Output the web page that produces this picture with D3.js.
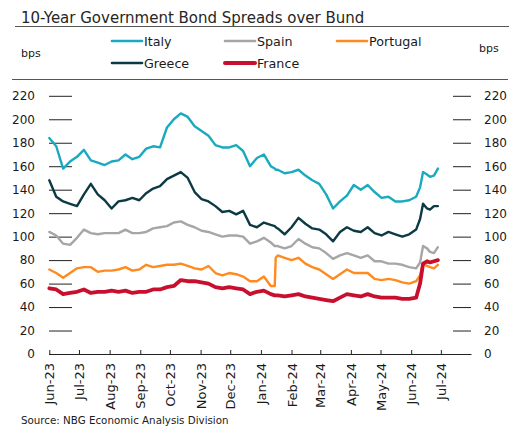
<!DOCTYPE html>
<html>
<head>
<meta charset="utf-8">
<script src="https://cdn.jsdelivr.net/npm/d3@7"></script>
<style>
  html, body { margin: 0; padding: 0; background: #fff; }
  svg { display: block; font-family: "DejaVu Sans", sans-serif; }
</style>
</head>
<body>
<div id="chart"></div>
<script>
// Observation dates (weekly, with extra points around sharp moves)
const dates = [
  "2023-06-01","2023-06-08","2023-06-15","2023-06-22","2023-06-29",
  "2023-07-06","2023-07-13","2023-07-20","2023-07-27",
  "2023-08-03","2023-08-10","2023-08-17","2023-08-24","2023-08-31",
  "2023-09-07","2023-09-14","2023-09-21","2023-09-28",
  "2023-10-05","2023-10-12","2023-10-19","2023-10-26",
  "2023-11-02","2023-11-09","2023-11-16","2023-11-23","2023-11-30",
  "2023-12-07","2023-12-14","2023-12-21","2023-12-28",
  "2024-01-04","2024-01-11","2024-01-15","2024-01-16","2024-01-18","2024-01-25",
  "2024-02-01","2024-02-08","2024-02-15","2024-02-22","2024-02-29",
  "2024-03-07","2024-03-14","2024-03-21","2024-03-28",
  "2024-04-04","2024-04-11","2024-04-18","2024-04-25",
  "2024-05-02","2024-05-09","2024-05-16","2024-05-23","2024-05-30",
  "2024-06-06","2024-06-10","2024-06-13","2024-06-17","2024-06-20","2024-06-24","2024-06-28"
];

// 10-year spreads over the Bund, bps
const italy = [
  184,177,158,164,168, 174,165,163,161, 164,165,170,166,168,
  175,177,176,193, 200,205,202,194, 190,186,178,176,176,
  178,173,160,167, 170,160,158,157,157,154,
  155,157,152,148,145, 136,124,130,135,
  144,140,144,138, 133,134,130,130,131,
  134,142,155,153,151,152,158
];
const spain = [
  104,101,94,93,99, 106,103,102,103, 103,103,106,103,103,
  104,107,108,109, 112,113,110,108, 105,104,102,100,101,
  101,100,94,96, 99,95,92,92,92,90,
  92,98,94,91,90, 86,81,84,86,
  84,82,84,79, 79,77,77,76,74,
  73,78,92,90,87,86,91
];
const portugal = [
  72,69,65,69,73, 74,74,70,71, 71,72,74,71,72,
  76,74,75,76, 76,77,75,73, 72,75,69,67,69,
  68,66,62,62, 66,58,58,82,84,82,
  80,82,77,74,72, 68,64,68,72,
  69,69,69,64, 63,64,63,61,60,
  62,67,77,75,74,73,76
];
const greece = [
  148,134,130,128,126, 136,145,136,131, 124,130,131,133,131,
  137,141,143,149, 152,155,150,138, 132,130,126,121,122,
  119,122,110,108, 112,110,109,108,107,102,
  108,116,111,107,106, 102,96,104,108,
  105,104,108,103, 101,104,102,100,102,
  106,115,128,124,123,126,126
];
const france = [
  56,55,51,52,53, 55,52,53,53, 54,53,54,52,53,
  53,55,55,57, 58,63,62,62, 61,60,57,56,57,
  56,55,51,53, 54,51,50,50,50,49,
  50,51,49,48,47, 46,45,48,51,
  50,49,51,49, 48,48,48,47,47,
  48,60,77,79,78,79,80
];

// Axis ticks
const yTicks = [0, 20, 40, 60, 80, 100, 120, 140, 160, 180, 200, 220];
const monthTicks = [
  "2023-06-01","2023-07-01","2023-08-01","2023-09-01","2023-10-01","2023-11-01",
  "2023-12-01","2024-01-01","2024-02-01","2024-03-01","2024-04-01","2024-05-01",
  "2024-06-01","2024-07-01"
];

const seriesNames = ["Italy", "Spain", "Portugal", "Greece", "France"];
const seriesValues = [italy, spain, portugal, greece, france];
const seriesColors = ["#1AAABF", "#A6A6A6", "#FF8A1F", "#0C3A44", "#C8102E"];
const seriesWidths = [2.4, 2.4, 2.4, 2.4, 3.8];

const W = 515, H = 428;
const parse = d3.utcParse("%Y-%m-%d");

const svg = d3.select("#chart").append("svg")
  .attr("width", W).attr("height", H);
svg.append("rect").attr("width", W).attr("height", H).attr("fill", "#fff");

const x = d3.scaleUtc()
  .domain([parse("2023-06-01"), parse("2024-08-01")])
  .range([49.3, 471.5]);
const y = d3.scaleLinear().domain([0, 220]).range([354, 95.8]);

// Title and rules
svg.append("text")
  .attr("x", 21).attr("y", 22.5)
  .attr("font-size", 15).attr("fill", "#262626")
  .text("10-Year Government Bond Spreads over Bund");
svg.append("line").attr("x1", 15).attr("x2", 509).attr("y1", 26.5).attr("y2", 26.5)
  .attr("stroke", "#555").attr("stroke-width", 1);
svg.append("line").attr("x1", 12).attr("x2", 508).attr("y1", 79.5).attr("y2", 79.5)
  .attr("stroke", "#555").attr("stroke-width", 1);

// Unit labels
svg.append("text").attr("x", 21).attr("y", 57).attr("font-size", 11).attr("fill", "#1a1a1a").text("bps");
svg.append("text").attr("x", 479).attr("y", 52).attr("font-size", 11).attr("fill", "#1a1a1a").text("bps");

// Legend
const legendPos = [
  { lx: 112, ly: 41 }, { lx: 225, ly: 41 }, { lx: 337, ly: 41 },
  { lx: 112, ly: 63 }, { lx: 225, ly: 63 }
];
seriesNames.forEach((name, i) => {
  const p = legendPos[i];
  const g = svg.append("g");
  g.append("line")
    .attr("x1", p.lx).attr("x2", p.lx + 30).attr("y1", p.ly).attr("y2", p.ly)
    .attr("stroke", seriesColors[i]).attr("stroke-width", i === 4 ? 4 : 2.6)
    .attr("stroke-linecap", "round");
  g.append("text")
    .attr("x", p.lx + 32).attr("y", p.ly).attr("dy", "0.36em")
    .attr("font-size", 12.7).attr("fill", "#1a1a1a")
    .text(name);
});

// Y axes (short tick marks on both sides)
const yLeft = d3.axisLeft(y).tickValues(yTicks).tickSize(23).tickPadding(14);
const gl = svg.append("g").attr("transform", "translate(72,0)").call(yLeft);
const yRight = d3.axisRight(y).tickValues(yTicks).tickSize(18).tickPadding(13);
const gr = svg.append("g").attr("transform", "translate(453,0)").call(yRight);
[gl, gr].forEach(g => {
  g.select(".domain").remove();
  g.selectAll(".tick line").attr("stroke", "#222").attr("stroke-width", 1);
  g.selectAll(".tick text").attr("font-size", 12).attr("fill", "#1a1a1a")
    .attr("font-family", "DejaVu Sans, sans-serif");
});

// Series lines
const line = d3.line()
  .x((d, i) => x(parse(dates[i])))
  .y(d => y(d))
  .curve(d3.curveLinear);

seriesValues.forEach((vals, i) => {
  svg.append("path")
    .datum(vals)
    .attr("fill", "none")
    .attr("stroke", seriesColors[i])
    .attr("stroke-width", seriesWidths[i])
    .attr("stroke-linejoin", "round")
    .attr("stroke-linecap", "round")
    .attr("d", line);
});

// X axis
const xAxis = d3.axisBottom(x)
  .tickValues(monthTicks.map(parse))
  .tickSize(-4)
  .tickPadding(0)
  .tickFormat(d3.utcFormat("%b-%y"));
const gx = svg.append("g").attr("transform", "translate(0,354)").call(xAxis);
gx.select(".domain").attr("d", "M49.3,0.5H471.5").attr("stroke", "#222");
gx.selectAll(".tick line").attr("stroke", "#222");
gx.selectAll(".tick text")
  .attr("font-size", 13).attr("fill", "#1a1a1a")
  .attr("font-family", "DejaVu Sans, sans-serif")
  .attr("text-anchor", "end")
  .attr("transform", "rotate(-90)")
  .attr("x", -9).attr("y", 0).attr("dy", "0.36em");

// Source note
svg.append("text")
  .attr("x", 21).attr("y", 423.5)
  .attr("font-size", 10.3).attr("fill", "#1a1a1a")
  .text("Source: NBG Economic Analysis Division");
</script>
</body>
</html>
